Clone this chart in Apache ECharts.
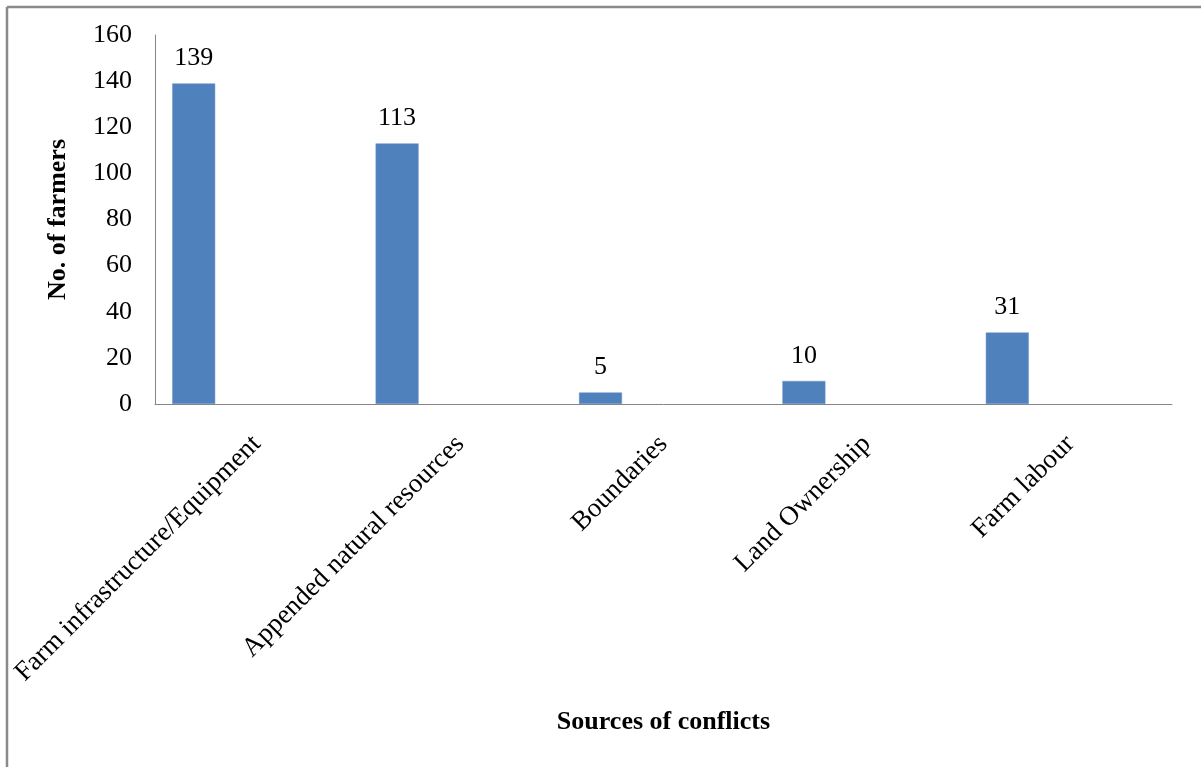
<!DOCTYPE html>
<html>
<head>
<meta charset="utf-8">
<title>Sources of conflicts</title>
<script src="https://cdn.jsdelivr.net/npm/echarts@6/dist/echarts.min.js"></script>
<style>
  html, body { margin: 0; padding: 0; background: #ffffff; }
  #chart { width: 1201px; height: 767px; }
</style>
</head>
<body>
<div id="chart"></div>
<script>
// Conflict sources and number of farmers reporting each
const categories = [
  'Farm infrastructure/Equipment',
  'Appended natural resources',
  'Boundaries',
  'Land Ownership',
  'Farm labour'
];
const farmers = [139, 113, 5, 10, 31];
// Empty companion series keeps each bar in the left part of its slot
const spacer = [null, null, null, null, null];
const yTicks = { min: 0, max: 160, interval: 20 };

const serif = '"Liberation Serif", "Times New Roman", serif';
const chart = echarts.init(document.getElementById('chart'), null, { renderer: 'canvas' });

chart.setOption({
  backgroundColor: '#ffffff',
  animation: false,
  grid: { left: 155, right: 29, top: 35, bottom: 363, containLabel: false },
  graphic: [
    { type: 'line', shape: { x1: 7, y1: 7, x2: 1201, y2: 7 },
      style: { stroke: '#8a8a8a', lineWidth: 2.5 } },
    { type: 'line', shape: { x1: 7, y1: 7, x2: 7, y2: 767 },
      style: { stroke: '#8a8a8a', lineWidth: 2.5 } }
  ],
  xAxis: {
    type: 'category',
    data: categories,
    name: 'Sources of conflicts',
    nameLocation: 'middle',
    nameGap: 305,
    nameTextStyle: { fontFamily: serif, fontSize: 26, fontWeight: 'bold', color: '#000' },
    axisLine: { lineStyle: { color: '#868686', width: 1 } },
    axisTick: { show: false },
    axisLabel: {
      interval: 0, rotate: 45, margin: 36,
      fontFamily: serif, fontSize: 27, color: '#000'
    },
    splitLine: { show: false }
  },
  yAxis: {
    type: 'value',
    min: yTicks.min, max: yTicks.max, interval: yTicks.interval,
    name: 'No. of farmers',
    nameLocation: 'middle',
    nameGap: 84,
    nameRotate: 90,
    nameTextStyle: { fontFamily: serif, fontSize: 26, fontWeight: 'bold', color: '#000' },
    axisLine: { show: true, lineStyle: { color: '#868686', width: 1 } },
    axisTick: { show: false },
    axisLabel: { margin: 23, fontFamily: serif, fontSize: 26, color: '#000' },
    splitLine: { show: false }
  },
  series: [
    {
      name: 'No. of farmers',
      type: 'bar',
      data: farmers,
      barWidth: 43,
      barGap: '0%',
      itemStyle: { color: '#4f81bd', borderColor: '#6d95c8', borderWidth: 0.5 },
      label: {
        show: true, position: 'top', distance: 12,
        fontFamily: serif, fontSize: 26, color: '#000'
      }
    },
    {
      name: 'spacer',
      type: 'bar',
      data: spacer,
      barWidth: 126,
      barGap: '0%',
      silent: true
    }
  ]
});
</script>
</body>
</html>
